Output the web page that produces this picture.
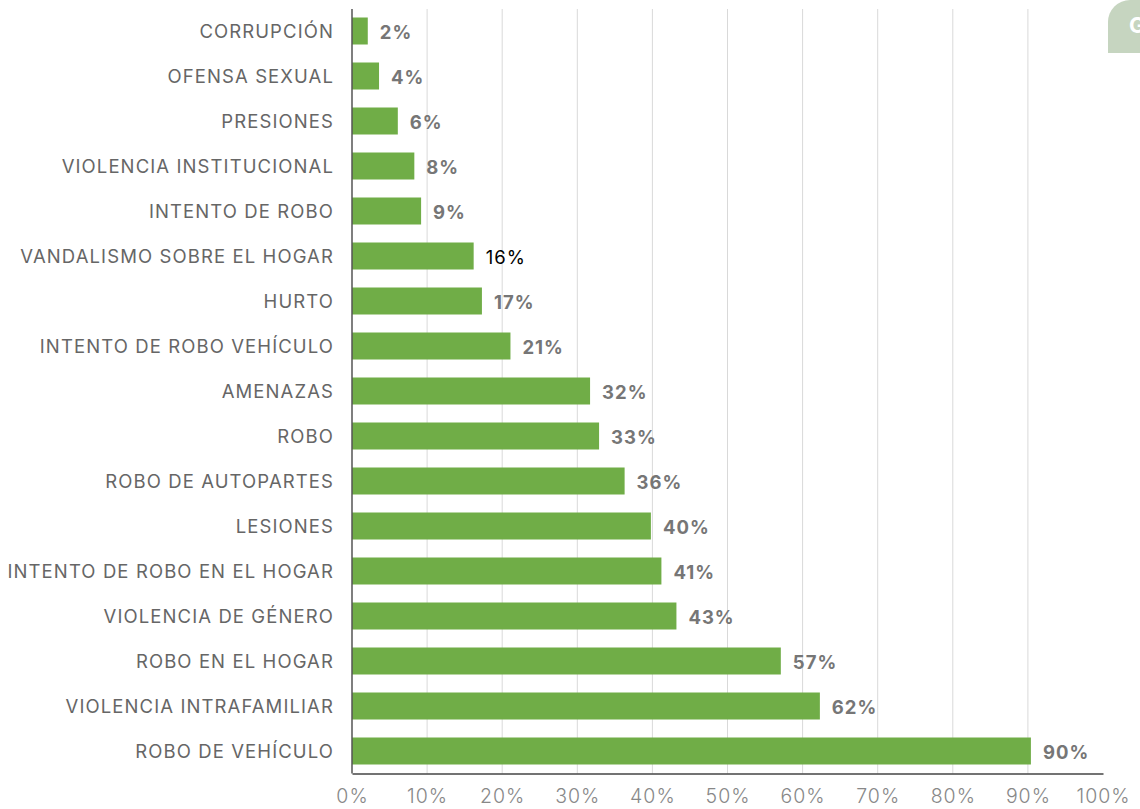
<!DOCTYPE html>
<html>
<head>
<meta charset="utf-8">
<script src="https://cdn.jsdelivr.net/npm/d3@7"></script>
<style>
  body { margin: 0; background: #fff; }
</style>
</head>
<body>
<svg width="1140" height="809"></svg>
<script>
const { select, scaleLinear, scaleBand, axisBottom } = d3;

// categories, top to bottom
const categories = [
    'CORRUPCIÓN',
    'OFENSA SEXUAL',
    'PRESIONES',
    'VIOLENCIA INSTITUCIONAL',
    'INTENTO DE ROBO',
    'VANDALISMO SOBRE EL HOGAR',
    'HURTO',
    'INTENTO DE ROBO VEHÍCULO',
    'AMENAZAS',
    'ROBO',
    'ROBO DE AUTOPARTES',
    'LESIONES',
    'INTENTO DE ROBO EN EL HOGAR',
    'VIOLENCIA DE GÉNERO',
    'ROBO EN EL HOGAR',
    'VIOLENCIA INTRAFAMILIAR',
    'ROBO DE VEHÍCULO',
];
// bar values in %
const values = [2.1, 3.6, 6.1, 8.3, 9.2, 16.2, 17.3, 21.1, 31.7, 32.9, 36.3, 39.8, 41.2, 43.2, 57.1, 62.3, 90.4];
// value labels as shown
const valueLabels = ['2%', '4%', '6%', '8%', '9%', '16%', '17%', '21%', '32%', '33%', '36%', '40%', '41%', '43%', '57%', '62%', '90%'];
const xTicks = [0, 10, 20, 30, 40, 50, 60, 70, 80, 90, 100];

const data = categories.map((c, i) => ({ name: c, value: values[i], label: valueLabels[i] }));

const svg = select('svg');
const plotLeft = 352;
const plotRight = 1103;
const plotTop = 8.5;
const plotBottom = 773.5;

const x = scaleLinear().domain([0, 100]).range([plotLeft, plotRight]);
const y = scaleBand()
    .domain(categories)
    .range([plotTop, plotBottom])
    .paddingInner(0.4)
    .paddingOuter(0.2);

// gridlines
svg.append('g')
    .selectAll('line')
    .data(xTicks.slice(1, -1))
    .join('line')
    .attr('x1', (d) => x(d))
    .attr('x2', (d) => x(d))
    .attr('y1', 9)
    .attr('y2', plotBottom)
    .attr('stroke', '#d9d9d9')
    .attr('stroke-width', 1);

// bars
svg.append('g')
    .selectAll('rect')
    .data(data)
    .join('rect')
    .attr('x', x(0))
    .attr('y', (d) => y(d.name))
    .attr('width', (d) => x(d.value) - x(0))
    .attr('height', y.bandwidth())
    .attr('fill', '#70ad47');

// value labels
svg.append('g')
    .selectAll('text')
    .data(data)
    .join('text')
    .attr('x', (d) => x(d.value) + 12)
    .attr('y', (d) => y(d.name) + y.bandwidth() / 2 + 1.5)
    .attr('dy', '0.36em')
    .attr('font-family', 'Inter, sans-serif')
    .attr('font-size', 18.5)
    .attr('letter-spacing', 1)
    .attr('font-weight', (d) => (d.label === '16%' ? 400 : 700))
    .attr('fill', (d) => (d.label === '16%' ? '#000' : '#767676'))
    .text((d) => d.label);

// category labels
svg.append('g')
    .selectAll('text')
    .data(data)
    .join('text')
    .attr('x', plotLeft - 18)
    .attr('y', (d) => y(d.name) + y.bandwidth() / 2 + 0.5)
    .attr('dy', '0.36em')
    .attr('text-anchor', 'end')
    .attr('font-family', 'Inter, sans-serif')
    .attr('font-size', 18.5)
    .attr('letter-spacing', 1.1)
    .attr('fill', '#666')
    .text((d) => d.name);

// x axis
const xAxis = svg.append('g')
    .attr('transform', `translate(0,${plotBottom})`)
    .call(
        axisBottom(x)
            .tickValues(xTicks)
            .tickFormat((d) => d + '%')
            .tickSize(0)
            .tickPadding(16)
    );
xAxis.select('.domain').attr('stroke', '#444').attr('stroke-width', 1.5);
xAxis.selectAll('text')
    .attr('font-family', 'Inter, sans-serif')
    .attr('font-size', 19.5)
    .attr('letter-spacing', 1)
    .attr('font-weight', 300)
    .attr('fill', '#888');

// y axis line
svg.append('line')
    .attr('x1', plotLeft)
    .attr('x2', plotLeft)
    .attr('y1', 9)
    .attr('y2', plotBottom)
    .attr('stroke', '#555')
    .attr('stroke-width', 1.5);

// corner tab, top right
svg.append('path')
    .attr('d', 'M1108,53 L1108,22 A22,22 0 0 1 1130,0 L1140,0 L1140,53 Z')
    .attr('fill', '#c6d5c0');
svg.append('text')
    .attr('x', 1129)
    .attr('y', 33)
    .attr('font-family', 'Inter, sans-serif')
    .attr('font-size', 22)
    .attr('font-weight', 700)
    .attr('fill', '#fff')
    .text('G');
</script>
</body>
</html>
